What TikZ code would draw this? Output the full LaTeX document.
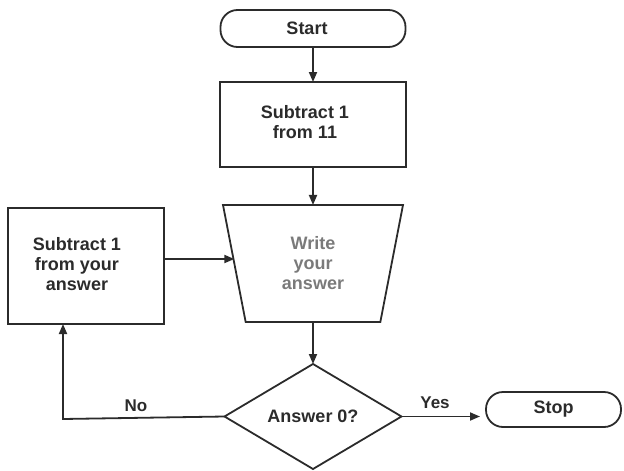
\documentclass[tikz,border=0pt]{standalone}
\usepackage{fontspec}
\setmainfont{Liberation Sans}
\usetikzlibrary{arrows.meta,shapes.geometric}
\definecolor{ink}{HTML}{2B2B2B}
\definecolor{softink}{HTML}{7A7A7A}
\begin{document}
\begin{tikzpicture}[x=1pt,y=-1pt,
  every node/.style={inner sep=0pt,outer sep=0pt,text=ink,
    font=\fontsize{18}{20}\selectfont\bfseries,align=center},
  line/.style={draw=ink,line width=1.8pt},
  arr/.style={line,-{Triangle[length=10pt,width=8pt]}},
  terminal/.style={line,rectangle,rounded corners=17pt},
  process/.style={line,rectangle},
  output/.style={line,trapezium,trapezium stretches=true,
    shape border rotate=180,trapezium left angle=78.9,trapezium right angle=78.9},
  decision/.style={line,diamond,inner sep=0pt},
  lbl/.style={font=\fontsize{17}{20}\selectfont\bfseries}]
\useasboundingbox (0,0) rectangle (624,471);

% shapes
\node[terminal,minimum width=185pt,minimum height=37pt] (start) at (313,28.5) {\hspace*{-12pt}Start};
\node[process,minimum width=186pt,minimum height=85pt] (sub11) at (313,124.5) {\hspace*{-16pt}\begin{tabular}{@{}c@{}}Subtract 1\\from 11\end{tabular}};
\node[output,minimum width=181pt,minimum height=117pt] (write) at (313,263.5)
  {\textcolor{softink}{Write}\\\textcolor{softink}{your}\\\textcolor{softink}{answer}};
\node[decision,minimum width=177pt,minimum height=105pt] (ask) at (313,416.5) {Answer 0?};
\node[process,minimum width=156pt,minimum height=116pt] (subans) at (86,266) {\hspace*{-18pt}\begin{tabular}{@{}c@{}}Subtract 1\\from your\\answer\end{tabular}};
\node[terminal,minimum width=135pt,minimum height=35pt] (stop) at (553.5,409.5) {Stop};

% connectors
\draw[arr] (start.south) -- (sub11.north);
\draw[arr] (sub11.south) -- (write.north);
\draw[arr] (write.south) -- (ask.north);
\draw[arr] ([yshift=7pt]subans.east) -- ([yshift=7pt]subans.east -| write.west);
\coordinate (corner) at (63,419);
\draw[arr] (ask.west) -- (corner) -- (corner |- subans.south);
\draw[arr,shorten >=6pt] (ask.east) -- (ask.east -| stop.west);

% branch labels
\node[lbl] (no) at (136,406) {No};
\node[lbl] (yes) at (435,403) {Yes};
\end{tikzpicture}
\end{document}
